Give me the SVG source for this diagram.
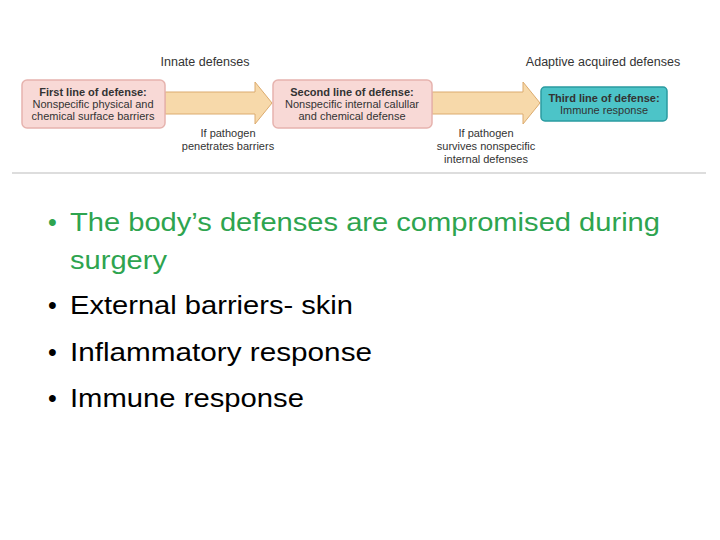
<svg xmlns="http://www.w3.org/2000/svg" width="720" height="540" viewBox="0 0 720 540">
<style>
.d{font-family:"Liberation Sans",Arial,sans-serif;font-size:11px;fill:#333;text-anchor:middle}
.b{font-weight:bold}
.h{font-family:"Liberation Sans",Arial,sans-serif;font-size:12.5px;fill:#333;text-anchor:middle}
.pink{fill:#f8d9d6;stroke:#e6b3ae;stroke-width:1.5}
.arr{fill:#f7d9aa;stroke:#dcab6e;stroke-width:1}
.t{font-family:"Liberation Sans",Arial,sans-serif;font-size:25px}
</style>
<rect width="720" height="540" fill="#fff"/>
<text class="h" x="205" y="66">Innate defenses</text>
<text class="h" x="603" y="66">Adaptive acquired defenses</text>
<g id="connectors">
<polygon class="arr" points="165,92 255,92 255,82 272,103 255,124 255,114 165,114"/>
<polygon class="arr" points="432,92 523,92 523,82 540,103 523,124 523,114 432,114"/>
</g>
<g id="n1"><rect class="pink" x="22" y="80" width="143" height="48" rx="5"/>
<text class="d b" x="93" y="96">First line of defense:</text>
<text class="d" x="93" y="108">Nonspecific physical and</text>
<text class="d" x="93" y="120">chemical surface barriers</text></g>
<g id="n2"><rect class="pink" x="273" y="80" width="159" height="48" rx="5"/>
<text class="d b" x="352" y="96">Second line of defense:</text>
<text class="d" x="352" y="108">Nonspecific internal calullar</text>
<text class="d" x="352" y="120">and chemical defense</text></g>
<g id="n3"><rect x="541" y="87" width="126" height="34" rx="4" fill="#4cc4c8" stroke="#2a9aa0" stroke-width="1.5"/>
<text class="d b" x="604" y="102">Third line of defense:</text>
<text class="d" x="604" y="114">Immune response</text></g>
<text class="d" x="228" y="137">If pathogen</text>
<text class="d" x="228" y="150">penetrates barriers</text>
<text class="d" x="486" y="137">If pathogen</text>
<text class="d" x="486" y="150">survives nonspecific</text>
<text class="d" x="486" y="163">internal defenses</text>
<line x1="12" y1="173" x2="706" y2="173" stroke="#bbb" stroke-width="1"/>
<g class="t">
<text x="48" y="231" fill="#2ea44f">•</text>
<text x="70" y="231" fill="#2ea44f" textLength="590" lengthAdjust="spacingAndGlyphs">The body’s defenses are compromised during</text>
<text x="70" y="269" fill="#2ea44f" textLength="97" lengthAdjust="spacingAndGlyphs">surgery</text>
<text x="48" y="314">•</text>
<text x="70" y="314" textLength="283" lengthAdjust="spacingAndGlyphs">External barriers- skin</text>
<text x="48" y="361">•</text>
<text x="70" y="361" textLength="302" lengthAdjust="spacingAndGlyphs">Inflammatory response</text>
<text x="48" y="407">•</text>
<text x="70" y="407" textLength="234" lengthAdjust="spacingAndGlyphs">Immune response</text>
</g>
</svg>
